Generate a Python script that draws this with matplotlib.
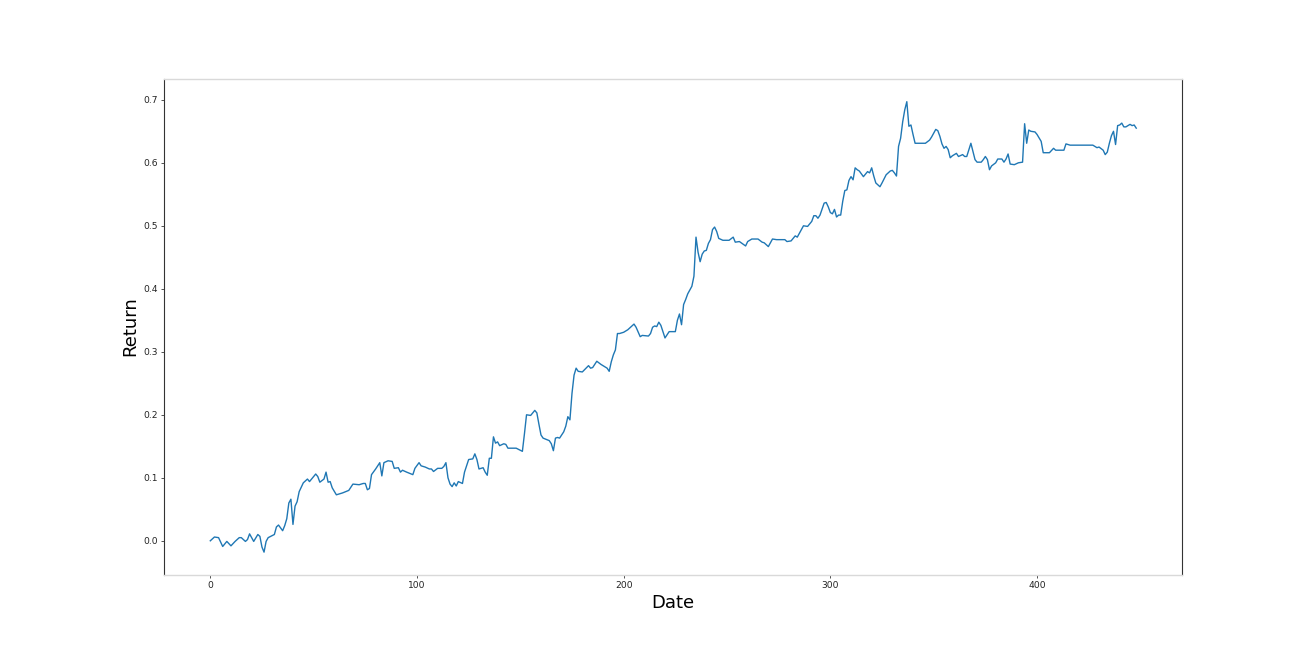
import matplotlib
matplotlib.use("Agg")
import matplotlib.pyplot as plt

# Day index (x) and cumulative return (y)
day = [0, 2, 4, 6, 8, 10, 12, 14, 15, 17, 18, 19, 21, 23, 24, 25, 26, 27, 28, 31,
       32, 33, 35, 36, 37, 38, 39, 40, 41, 42, 43, 45, 47, 48, 51, 52, 53, 55, 56, 57,
       58, 59, 61, 64, 67, 69, 72, 74, 75, 76, 77, 78, 80, 82, 83, 84, 86, 88, 89, 91,
       92, 93, 95, 98, 99, 101, 102, 104, 106, 107, 108, 110, 112, 113, 114, 115, 116, 117, 118, 119,
       120, 122, 123, 125, 127, 128, 129, 130, 132, 133, 134, 135, 136, 137, 138, 139, 140, 142, 143, 144,
       148, 151, 152, 153, 155, 157, 158, 159, 160, 161, 164, 165, 166, 167, 168, 169, 171, 172, 173, 174,
       175, 176, 177, 178, 180, 183, 184, 185, 187, 189, 192, 193, 194, 195, 196, 197, 198, 200, 202, 203,
       205, 206, 208, 209, 212, 213, 214, 215, 216, 217, 218, 220, 221, 222, 225, 226, 227, 228, 229, 230,
       231, 233, 234, 235, 236, 237, 238, 239, 240, 241, 242, 243, 244, 245, 246, 248, 251, 253, 254, 256,
       259, 260, 262, 265, 267, 268, 270, 271, 272, 274, 278, 279, 281, 283, 284, 285, 287, 289, 291, 292,
       293, 294, 295, 297, 298, 299, 300, 301, 302, 303, 304, 305, 306, 307, 308, 309, 310, 311, 312, 313,
       314, 316, 318, 319, 320, 321, 322, 324, 325, 327, 329, 330, 331, 332, 333, 334, 335, 336, 337, 338,
       339, 340, 341, 346, 348, 349, 351, 352, 353, 354, 355, 356, 357, 358, 359, 361, 362, 364, 365, 366,
       368, 369, 370, 371, 373, 374, 375, 376, 377, 378, 380, 381, 383, 384, 385, 386, 387, 389, 391, 393,
       394, 395, 396, 397, 399, 400, 402, 403, 406, 408, 409, 413, 414, 416, 427, 429, 430, 432, 433, 434,
       435, 436, 437, 438, 439, 440, 441, 442, 443, 445, 446, 447, 448]

ret = [0.000, 0.006, 0.005, -0.009, -0.001, -0.008, -0.001, 0.005, 0.005, -0.001, 0.002, 0.011, -0.001, 0.010, 0.007, -0.010, -0.018, -0.001, 0.005, 0.010,
       0.022, 0.025, 0.016, 0.024, 0.035, 0.060, 0.066, 0.026, 0.055, 0.062, 0.078, 0.092, 0.098, 0.094, 0.106, 0.102, 0.093, 0.098, 0.109, 0.093,
       0.094, 0.084, 0.073, 0.076, 0.080, 0.090, 0.089, 0.091, 0.091, 0.081, 0.083, 0.105, 0.114, 0.124, 0.103, 0.124, 0.127, 0.126, 0.115, 0.116,
       0.109, 0.112, 0.109, 0.105, 0.115, 0.124, 0.119, 0.117, 0.114, 0.114, 0.110, 0.115, 0.115, 0.118, 0.124, 0.100, 0.090, 0.086, 0.092, 0.087,
       0.094, 0.091, 0.109, 0.129, 0.130, 0.138, 0.129, 0.114, 0.116, 0.109, 0.104, 0.131, 0.131, 0.165, 0.155, 0.157, 0.151, 0.154, 0.153, 0.147,
       0.147, 0.142, 0.170, 0.200, 0.199, 0.207, 0.203, 0.185, 0.168, 0.163, 0.159, 0.154, 0.143, 0.163, 0.164, 0.163, 0.173, 0.182, 0.197, 0.192,
       0.234, 0.263, 0.274, 0.269, 0.268, 0.278, 0.274, 0.275, 0.285, 0.280, 0.274, 0.269, 0.284, 0.295, 0.303, 0.329, 0.329, 0.331, 0.335, 0.338,
       0.344, 0.339, 0.324, 0.326, 0.325, 0.329, 0.339, 0.341, 0.340, 0.347, 0.342, 0.322, 0.327, 0.332, 0.332, 0.350, 0.360, 0.343, 0.375, 0.383,
       0.392, 0.404, 0.420, 0.482, 0.458, 0.443, 0.455, 0.460, 0.461, 0.472, 0.478, 0.494, 0.498, 0.491, 0.480, 0.477, 0.477, 0.482, 0.474, 0.475,
       0.468, 0.475, 0.479, 0.479, 0.474, 0.473, 0.467, 0.473, 0.479, 0.478, 0.478, 0.475, 0.476, 0.484, 0.482, 0.488, 0.500, 0.499, 0.507, 0.516,
       0.516, 0.512, 0.517, 0.536, 0.537, 0.530, 0.521, 0.519, 0.526, 0.514, 0.517, 0.517, 0.539, 0.556, 0.557, 0.572, 0.578, 0.573, 0.592, 0.589,
       0.587, 0.578, 0.586, 0.584, 0.592, 0.579, 0.568, 0.562, 0.568, 0.581, 0.587, 0.588, 0.584, 0.579, 0.626, 0.639, 0.665, 0.684, 0.697, 0.658,
       0.660, 0.645, 0.631, 0.631, 0.636, 0.641, 0.653, 0.651, 0.642, 0.630, 0.623, 0.626, 0.621, 0.608, 0.611, 0.615, 0.610, 0.613, 0.610, 0.610,
       0.631, 0.618, 0.605, 0.601, 0.601, 0.605, 0.610, 0.605, 0.589, 0.595, 0.600, 0.606, 0.606, 0.601, 0.606, 0.614, 0.598, 0.597, 0.600, 0.601,
       0.662, 0.631, 0.652, 0.650, 0.649, 0.645, 0.634, 0.616, 0.616, 0.623, 0.620, 0.620, 0.630, 0.628, 0.628, 0.624, 0.625, 0.620, 0.613, 0.617,
       0.631, 0.643, 0.650, 0.629, 0.659, 0.660, 0.663, 0.657, 0.657, 0.661, 0.659, 0.660, 0.655]

x_ticks = [0, 100, 200, 300, 400]
y_ticks = [0.0, 0.1, 0.2, 0.3, 0.4, 0.5, 0.6, 0.7]

fig = plt.figure(figsize=(13.13, 6.57), dpi=100)
ax = fig.add_axes([164 / 1313, 1 - 574.5 / 657, (1181.5 - 164) / 1313, (574.5 - 78.5) / 657])

ax.plot(day, ret, color="#1f77b4", linewidth=1.0)

ax.set_xlim(-22.4, 469.9)
ax.set_ylim(-0.0535, 0.7338)
ax.set_xticks(x_ticks)
ax.set_xticklabels([str(t) for t in x_ticks])
ax.set_yticks(y_ticks)
ax.set_yticklabels([f"{t:.1f}" for t in y_ticks])
ax.tick_params(labelsize=6.6, length=2.3, width=0.55, pad=2.3, colors="#222222")

for side in ("top", "bottom"):
    ax.spines[side].set_color("#d9d9d9")
    ax.spines[side].set_linewidth(1.0)
for side in ("left", "right"):
    ax.spines[side].set_color("#333333")
    ax.spines[side].set_linewidth(0.8)

ax.set_xlabel("Date", fontsize=13, labelpad=3)
ax.set_ylabel("Return", fontsize=13, labelpad=3)

fig.savefig("out.png", dpi=100)
